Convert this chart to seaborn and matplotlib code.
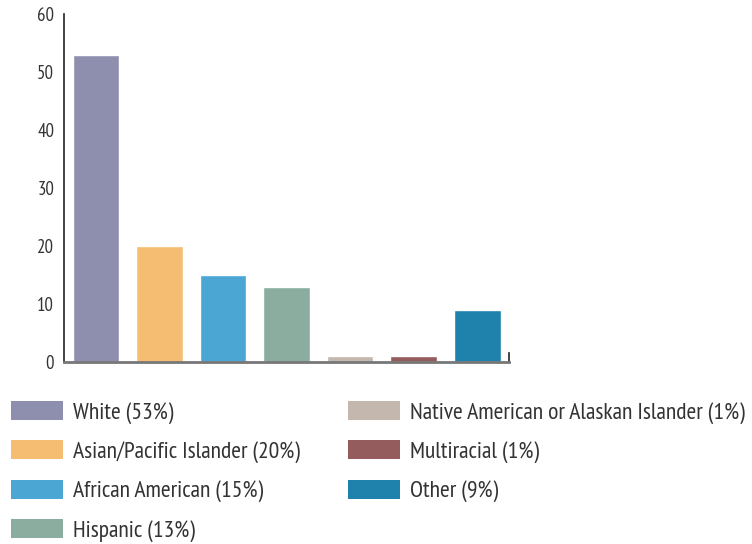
import matplotlib
matplotlib.use("Agg")
import matplotlib.pyplot as plt
import seaborn as sns
from matplotlib.patches import Patch

categories = ["White", "Asian/Pacific Islander", "African American", "Hispanic",
              "Native American or Alaskan Islander", "Multiracial", "Other"]
values = [53, 20, 15, 13, 1, 1, 9]
colors = ["#8E8FAF", "#F5BD72", "#4BA6D4", "#8AADA0", "#C4B8AE", "#955C5E", "#1F82AC"]
y_ticks = [0, 10, 20, 30, 40, 50, 60]

sns.set_style("white")
# condensed face like the original; falls back if missing
plt.rcParams["font.family"] = ["PT Sans Narrow", "Roboto Condensed", "Liberation Sans Narrow", "DejaVu Sans"]
text_color = "#333333"

fig = plt.figure(figsize=(7.52, 5.44), dpi=100)
ax = fig.add_axes([0.085, 0.3346, 0.592, 0.6397])

sns.barplot(x=categories, y=values, hue=categories, palette=colors,
            dodge=False, width=0.73, legend=False, saturation=1, ax=ax)

ax.set_xlim(-0.5, 6.5)
ax.set_ylim(0, 60)
ax.set_yticks(y_ticks)
ax.set_yticklabels([str(t) for t in y_ticks], fontsize=13.5, color=text_color)
ax.set_xticks([])
ax.set_xlabel("")
ax.set_ylabel("")
ax.tick_params(axis="y", direction="in", length=7.5, width=1.2, color="#666666", pad=7)

ax.spines["top"].set_visible(False)
ax.spines["left"].set_color("#222222")
ax.spines["left"].set_linewidth(1.2)
ax.spines["bottom"].set_color("#777777")
ax.spines["bottom"].set_linewidth(2)
ax.spines["right"].set_color("#222222")
ax.spines["right"].set_linewidth(1.2)
ax.spines["right"].set_bounds(0, 1.5)

handles = [Patch(facecolor=c, edgecolor="none") for c in colors]
labels = [f"{c} ({v}%)" for c, v in zip(categories, values)]
leg = fig.legend(handles, labels, ncol=2, loc="upper left",
                 bbox_to_anchor=(0.002, 0.28), frameon=False, fontsize=17,
                 handlelength=2.2, handleheight=0.85, handletextpad=0.42,
                 labelspacing=0.7, columnspacing=2.05, borderaxespad=0)
for t in leg.get_texts():
    t.set_color(text_color)

fig.savefig("out.png", dpi=100)
